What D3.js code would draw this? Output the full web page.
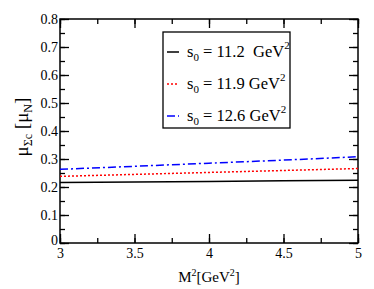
<!DOCTYPE html>
<html>
<head>
<meta charset="utf-8">
<script src="https://cdn.jsdelivr.net/npm/d3@7"></script>
<style>
  body { margin: 0; background: #fff; }
</style>
</head>
<body>
<div id="chart"></div>
<script>
// Data
const massSq = [3, 3.5, 4, 4.5, 5];
const seriesNames = ["11.2", "11.9", "12.6"];
const muLow = [0.216, 0.218, 0.220, 0.222, 0.224];
const muMid = [0.238, 0.245, 0.252, 0.259, 0.266];
const muHigh = [0.263, 0.274, 0.285, 0.296, 0.308];
const xTicks = [3, 3.5, 4, 4.5, 5];
const yTicks = [0, 0.1, 0.2, 0.3, 0.4, 0.5, 0.6, 0.7, 0.8];

const FONT = "'Liberation Serif', 'Times New Roman', Times, 'DejaVu Serif', serif";

const series = [
    { name: seriesNames[0], values: muLow, color: "#000", dash: null },
    { name: seriesNames[1], values: muMid, color: "#ff0000", dash: "2,2" },
    { name: seriesNames[2], values: muHigh, color: "#0000ff", dash: "8,3,2,3" }
];

const margin = { top: 19, right: 16, bottom: 46, left: 60 };
const width = 374 - margin.left - margin.right;
const height = 289 - margin.top - margin.bottom;

const svg = d3.select("#chart")
    .append("svg")
    .attr("width", 374)
    .attr("height", 289)
    .attr("font-family", FONT)
    .append("g")
    .attr("transform", `translate(${margin.left}, ${margin.top})`);

const xScale = d3.scaleLinear().domain([3, 5]).range([0, width]);
const yScale = d3.scaleLinear().domain([0, 0.8]).range([height, 0]);

// Minor ticks
const xMinor = d3.range(3, 5.001, 0.25);
const yMinor = d3.range(0, 0.801, 0.05);

function styleAxis(g) {
    g.attr("font-family", FONT);
    g.select(".domain").remove();
    g.selectAll("line").attr("stroke", "#000").attr("stroke-width", 1.3);
}

// Bottom axis (ticks pointing inward)
svg.append("g")
    .attr("transform", `translate(0, ${height})`)
    .call(d3.axisBottom(xScale).tickValues(xMinor).tickSize(-5).tickFormat(""))
    .call(styleAxis);
svg.append("g")
    .attr("transform", `translate(0, ${height})`)
    .call(d3.axisBottom(xScale).tickValues(xTicks).tickSize(-9).tickPadding(5).tickFormat(d3.format("")))
    .call(styleAxis)
    .selectAll("text").attr("font-size", 14).attr("fill", "#000");

// Top axis
svg.append("g")
    .call(d3.axisTop(xScale).tickValues(xMinor).tickSize(-5).tickFormat(""))
    .call(styleAxis);
svg.append("g")
    .call(d3.axisTop(xScale).tickValues(xTicks).tickSize(-9).tickFormat(""))
    .call(styleAxis);

// Left axis
svg.append("g")
    .call(d3.axisLeft(yScale).tickValues(yMinor).tickSize(-5).tickFormat(""))
    .call(styleAxis);
svg.append("g")
    .call(d3.axisLeft(yScale).tickValues(yTicks).tickSize(-9).tickPadding(2).tickFormat(d3.format("")))
    .call(styleAxis)
    .selectAll("text").attr("font-size", 14).attr("fill", "#000")
    .attr("dy", d => d === 0 ? "0.1em" : "0.32em");

// Right axis
svg.append("g")
    .attr("transform", `translate(${width}, 0)`)
    .call(d3.axisRight(yScale).tickValues(yMinor).tickSize(-5).tickFormat(""))
    .call(styleAxis);
svg.append("g")
    .attr("transform", `translate(${width}, 0)`)
    .call(d3.axisRight(yScale).tickValues(yTicks).tickSize(-9).tickFormat(""))
    .call(styleAxis);

// Frame
svg.append("rect")
    .attr("width", width)
    .attr("height", height)
    .attr("fill", "none")
    .attr("stroke", "#000")
    .attr("stroke-width", 1.5);

// Lines
const line = d3.line()
    .x((d, i) => xScale(massSq[i]))
    .y(d => yScale(d));

series.forEach(s => {
    svg.append("path")
        .datum(s.values)
        .attr("d", line)
        .attr("fill", "none")
        .attr("stroke", s.color)
        .attr("stroke-width", 1.5)
        .attr("stroke-dasharray", s.dash);
});

// Legend
const legend = svg.append("g").attr("transform", "translate(103, 13)");
legend.append("rect")
    .attr("width", 127)
    .attr("height", 96)
    .attr("fill", "#fff")
    .attr("stroke", "#000")
    .attr("stroke-width", 1.3);

series.forEach((s, i) => {
    const y = 20 + i * 32;
    legend.append("line")
        .attr("x1", 4).attr("x2", 16)
        .attr("y1", y).attr("y2", y)
        .attr("stroke", s.color)
        .attr("stroke-width", 1.5)
        .attr("stroke-dasharray", s.dash);
    const t = legend.append("text")
        .attr("x", 24)
        .attr("y", y + 5)
        .attr("font-size", 16.5)
        .attr("fill", "#000");
    t.append("tspan").text("s");
    t.append("tspan").attr("font-size", 11).attr("dy", 4).text("0");
    t.append("tspan").attr("dy", -4).text(` = ${s.name}${i === 0 ? "\u00a0" : ""} GeV`);
    t.append("tspan").attr("font-size", 11).attr("dy", -8).text("2");
});

// X label
const xl = svg.append("text")
    .attr("x", width / 2)
    .attr("y", height + 39)
    .attr("text-anchor", "middle")
    .attr("font-size", 15)
    .attr("fill", "#000");
xl.append("tspan").text("M");
xl.append("tspan").attr("font-size", 10).attr("dy", -6).text("2");
xl.append("tspan").attr("dy", 6).text("[GeV");
xl.append("tspan").attr("font-size", 10).attr("dy", -6).text("2");
xl.append("tspan").attr("dy", 6).text("]");

// Y label
const yl = svg.append("text")
    .attr("transform", `translate(-32, ${height / 2 - 4}) rotate(-90)`)
    .attr("text-anchor", "middle")
    .attr("font-size", 19)
    .attr("fill", "#000");
yl.append("tspan").text("\u03bc");
yl.append("tspan").attr("font-size", 12).attr("dy", 4).text("\u03a3c");
yl.append("tspan").attr("dy", -4).text(" [\u03bc");
yl.append("tspan").attr("font-size", 12).attr("dy", 4).text("N");
yl.append("tspan").attr("dy", -4).text("]");
</script>
</body>
</html>
